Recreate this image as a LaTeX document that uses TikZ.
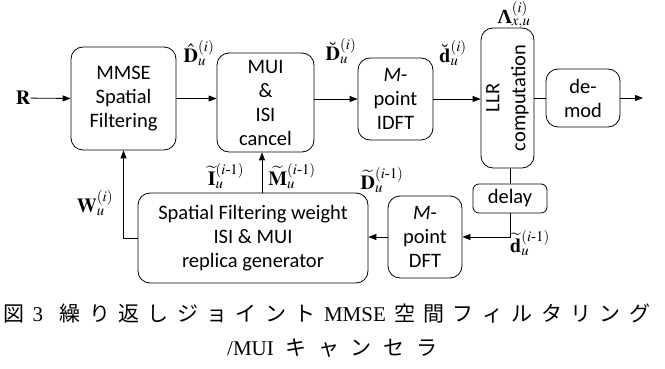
\documentclass[tikz,border=0pt]{standalone}
\usepackage{amsmath}
\usepackage{mathptmx}
\usepackage{graphicx}
\usepackage{fontspec}
\setmainfont{Liberation Serif}
\newfontfamily\boxfont{Carlito}
\newfontfamily\jpfont{Noto Sans CJK JP}
\usetikzlibrary{arrows.meta}

\tikzset{
  blk/.style={draw, line width=0.8pt, rounded corners=12pt, align=center, inner sep=0pt,
    font=\boxfont\fontsize{20.5}{24}\selectfont},
  sig/.style={line width=0.8pt, -{Triangle[length=8pt,width=6pt]}},
  wire/.style={line width=0.8pt},
  lbl/.style={inner sep=0pt, font=\fontsize{20}{22}\selectfont},
}

\begin{document}
\begin{tikzpicture}[x=1pt,y=-1pt]
\useasboundingbox (0,0) rectangle (665,369);

% Blocks
\node[blk, minimum width=105pt, minimum height=103pt] (mmse) at (123.5,98.5) {MMSE\\Spatial\\Filtering};
\node[blk, minimum width=97pt, minimum height=99pt] (mui) at (265.5,102.5) {MUI\\\&\\ISI\\cancel};
\node[blk, minimum width=75pt, minimum height=82pt] (idft) at (395.5,99) {\textit{M}-\\point\\IDFT};
\node[blk, minimum width=53pt, minimum height=140pt] (llr) at (507.5,98)
  {\rotatebox{90}{\begin{tabular}{@{}c@{}}LLR\\[2pt]computation\end{tabular}}};
\node[blk, minimum width=74pt, minimum height=58pt] (demod) at (583,98) {de-\\mod};
\node[blk, rounded corners=6pt, minimum width=74pt, minimum height=29pt] (delay) at (510,198.5) {delay};
\node[blk, minimum width=74pt, minimum height=82pt] (dft) at (425,237) {\textit{M}-\\point\\DFT};
\node[blk, minimum width=230pt, minimum height=90pt] (sfw) at (253,238)
  {Spatial Filtering weight\\ISI \& MUI\\replica generator};

% Text Node
\node[lbl] (rin) at (23,98) {$\mathbf{R}$};
\coordinate (out) at (643,98);

% Connectors
\draw[sig] (rin) -- (mmse.west);
\draw[sig] (mmse.east) -- (mmse.east -| mui.west);
\draw[sig] (mui.east |- idft.west) -- (idft.west);
\draw[sig] (idft.east) -- (idft.east -| llr.west);
\draw[wire] (llr.east |- demod.west) -- (demod.west);
\draw[sig] (demod.east) -- (out);
\draw[wire] (llr.south -| delay.north) -- (delay.north);
\draw[sig] (delay.south) |- (dft.east);
\draw[sig] (dft.west) -- (dft.west -| sfw.east);
\draw[sig] (sfw.west) -| (mmse.south);
\draw[sig] ([xshift=-3.5pt]sfw.north -| mui.south) -- ([xshift=-3.5pt]mui.south);

% Text Node
\node[lbl] (dhat) at (199,53) {$\hat{\mathbf{D}}_u^{(i)}$};
\node[lbl] (dbrv) at (341,51) {$\breve{\mathbf{D}}_u^{(i)}$};
\node[lbl] (sbrv) at (453,53) {$\breve{\mathbf{d}}_u^{(i)}$};
\node[lbl] (llam) at (514,15) {$\text{\textbf{Λ}}_{x,u}^{(i)}$};
\node[lbl] (wgt) at (95,203) {$\mathbf{W}_u^{(i)}$};
\node[lbl] (itil) at (226,176) {$\widetilde{\mathbf{I}}_u^{(i\text{-}1)}$};
\node[lbl] (mtil) at (292,176) {$\widetilde{\mathbf{M}}_u^{(i\text{-}1)}$};
\node[lbl] (dtil) at (382,180) {$\widetilde{\mathbf{D}}_u^{(i\text{-}1)}$};
\node[lbl] (stil) at (530,243) {$\widetilde{\mathbf{d}}_u^{(i\text{-}1)}$};

% Caption
\node[inner sep=0pt, anchor=base west, font=\fontsize{21}{24}\selectfont] (cap1) at (3,321)
  {\makebox[647pt]{{\jpfont 図}\hfill 3\hfill\hfill{\jpfont 繰\hfill り\hfill 返\hfill し\hfill ジ\hfill ョ\hfill イ\hfill ン\hfill ト}\hfill MMSE\hfill{\jpfont 空\hfill 間\hfill フ\hfill ィ\hfill ル\hfill タ\hfill リ\hfill ン\hfill グ}}};
\node[inner sep=0pt, anchor=base west, font=\fontsize{21}{24}\selectfont] (cap2) at (227,355)
  {\makebox[210pt]{/MUI\hfill{\jpfont キ\hfill ャ\hfill ン\hfill セ\hfill ラ}}};
\end{tikzpicture}
\end{document}
